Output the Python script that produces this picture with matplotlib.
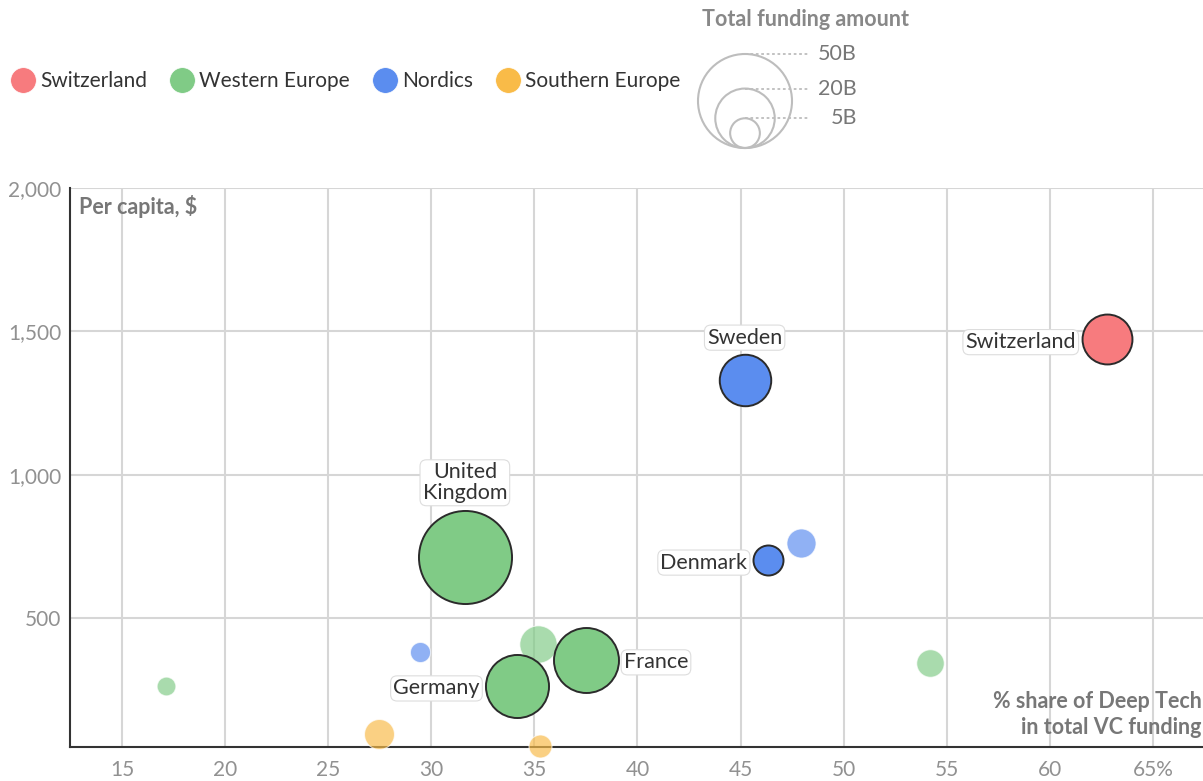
import numpy as np
import matplotlib
matplotlib.use("Agg")
import matplotlib.pyplot as plt
from matplotlib.lines import Line2D
from matplotlib.patches import Circle

plt.rcParams['font.family'] = ['Lato', 'DejaVu Sans']

# bubble data: % share of deep tech in VC funding, per capita $, total funding (B)
labels = ["Switzerland", "Sweden", "Denmark", "", "United\nKingdom", "Germany", "France",
          "", "", "", "", "", ""]
regions = ["Switzerland", "Nordics", "Nordics", "Nordics", "Western Europe", "Western Europe",
           "Western Europe", "Western Europe", "Western Europe", "Western Europe", "Nordics",
           "Southern Europe", "Southern Europe"]
share = [62.75, 45.2, 46.33, 47.93, 31.63, 34.15, 37.49, 35.17, 54.19, 17.12, 29.45, 27.48, 35.26]
per_capita = [1472, 1329, 703, 763, 714, 264, 355, 411, 342, 264, 383, 95, 52]
funding = [14.1, 15.0, 5.1, 4.8, 49.0, 22.5, 23.9, 7.9, 4.3, 2.0, 2.3, 5.1, 3.0]

region_names = ["Switzerland", "Western Europe", "Nordics", "Southern Europe"]
region_colors = {"Switzerland": "#F77B7E", "Western Europe": "#80CB86",
                 "Nordics": "#5B8DEF", "Southern Europe": "#F9BB48"}

x_ticks = [15, 20, 25, 30, 35, 40, 45, 50, 55, 60, 65]
x_tick_labels = ["15", "20", "25", "30", "35", "40", "45", "50", "55", "60", "65%"]
y_ticks = [500, 1000, 1500, 2000]
y_tick_labels = ["500", "1,000", "1,500", "2,000"]

size_legend_values = [50, 20, 5]

# label placement (side of the bubble)
label_side = {"Switzerland": "left", "Sweden": "top", "Denmark": "left",
              "United\nKingdom": "top", "Germany": "left", "France": "right"}

DPI = 100
MAX_R = 47  # radius in px of the 50B bubble


def radius_px(v):
    return MAX_R * np.sqrt(v / 50.0)


fig = plt.figure(figsize=(12.03, 7.81), dpi=DPI)
W, H = 1203, 781
ax = fig.add_axes([70 / W, 34 / H, 1 - 70 / W, (747 - 188) / H])
ax.set_xlim(12.48, 67.43)
ax.set_ylim(50, 2000)

ax.set_xticks(x_ticks)
ax.set_xticklabels(x_tick_labels)
ax.set_yticks(y_ticks)
ax.set_yticklabels(y_tick_labels)
ax.tick_params(length=0, labelsize=15, colors="#919191")
ax.tick_params(axis="x", pad=9)
ax.tick_params(axis="y", pad=6)
ax.grid(True, color="#D6D6D6", lw=1.5)
ax.set_axisbelow(True)
for s in ["top", "right"]:
    ax.spines[s].set_visible(False)
for s in ["left", "bottom"]:
    ax.spines[s].set_color("#333333")
    ax.spines[s].set_linewidth(1.5)
    ax.spines[s].set_zorder(2)

# unlabeled (faded) bubbles first, labeled on top
order = sorted(range(len(share)), key=lambda i: labels[i] != "")
for i in order:
    r = radius_px(funding[i])
    s = (2 * r * 72 / DPI) ** 2
    col = region_colors[regions[i]]
    if labels[i]:
        ax.scatter(share[i], per_capita[i], s=s, color=col, edgecolor="#2b2b2b",
                   linewidth=1.4, zorder=4, clip_on=False)
    else:
        ax.scatter(share[i], per_capita[i], s=s, color=col, alpha=0.68, edgecolor="white",
                   linewidth=0.8, zorder=3, clip_on=False)

box = dict(boxstyle="round,pad=0.12,rounding_size=0.3", fc="white", ec="#DDDDDD", lw=0.8)
for i, lab in enumerate(labels):
    if not lab:
        continue
    r = radius_px(funding[i]) * 72 / DPI
    side = label_side[lab]
    if side == "top":
        off, ha, va = (0, r + 5), "center", "bottom"
    elif side == "left":
        off, ha, va = (-(r + 4), -2), "right", "center"
    else:
        off, ha, va = (r + 4, -2), "left", "center"
    ax.annotate(lab, (share[i], per_capita[i]), xytext=off, textcoords="offset points",
                ha=ha, va=va, fontsize=15.5, color="#333333", bbox=box, zorder=6,
                linespacing=1.05, multialignment="center")

ax.text(0.008, 0.987, "Per capita, $", transform=ax.transAxes, ha="left", va="top",
        fontsize=15.5, fontweight="bold", color="#777777")
ax.text(0.999, 0.016, "% share of Deep Tech\nin total VC funding", transform=ax.transAxes,
        ha="right", va="bottom", fontsize=15.5, fontweight="bold", color="#777777",
        linespacing=1.3)

# region legend
handles = [Line2D([], [], marker="o", ls="", markersize=18.5, markerfacecolor=region_colors[n],
                  markeredgecolor="white", markeredgewidth=0.5) for n in region_names]
fig.legend(handles, region_names, loc="center left", bbox_to_anchor=(11 / W, 1 - 81 / H),
           ncol=4, frameon=False, fontsize=15, handlelength=1.15, handletextpad=0.25,
           columnspacing=1.1, borderpad=0, borderaxespad=0, labelcolor="#333333")

# size legend (pixel coordinates overlay)
lax = fig.add_axes([0, 0, 1, 1], zorder=-1)
lax.set_xlim(0, W)
lax.set_ylim(H, 0)
lax.axis("off")
cx, base = 745, 148
for v in size_legend_values:
    r = radius_px(v)
    lax.add_patch(Circle((cx, base - r), r, fill=False, ec="#BDBDBD", lw=1.5))
    top = base - 2 * r
    lax.plot([cx, 809], [top, top], ls=(0, (1.5, 1.5)), color="#BDBDBD", lw=1.3)
    lax.text(857, top, f"{v}B", ha="right", va="center", fontsize=15.5, color="#777777")
lax.text(805, 19, "Total funding amount", ha="center", va="center", fontsize=15.5,
         fontweight="bold", color="#888888")

fig.savefig("out.png", dpi=DPI)
